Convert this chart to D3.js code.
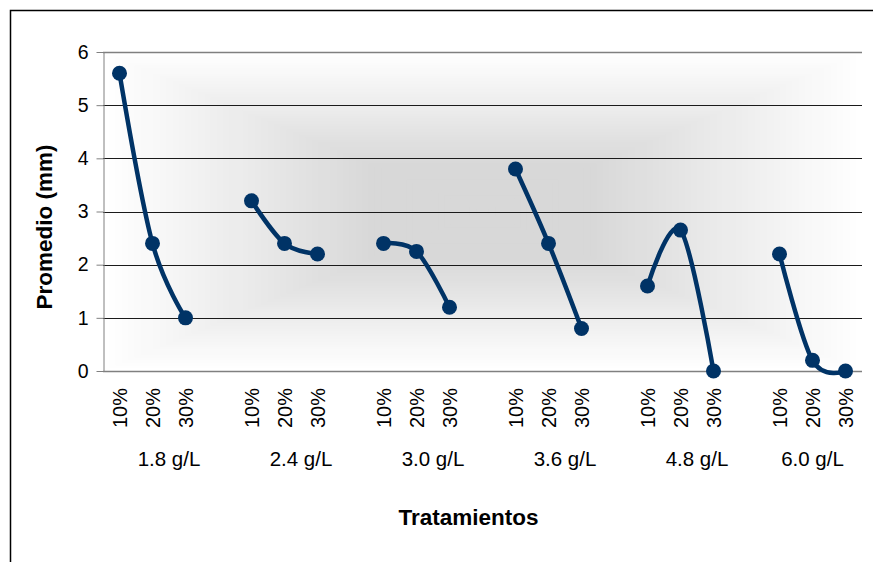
<!DOCTYPE html>
<html lang="es">
<head>
    <meta charset="UTF-8">
    <title>Promedio por tratamiento</title>
    <script src="https://d3js.org/d3.v7.min.js"></script>
    <style>
        body { margin: 0; background: #fff; }
        text { font-family: "Liberation Sans", Arial, sans-serif; fill: #000; }
    </style>
</head>
<body>
    <svg></svg>

    <script>
        const w = 873;
        const h = 562;

        // data
        const groups = ["1.8 g/L", "2.4 g/L", "3.0 g/L", "3.6 g/L", "4.8 g/L", "6.0 g/L"];
        const levels = ["10%", "20%", "30%"];
        const g18 = [5.6, 2.4, 1.0];
        const g24 = [3.2, 2.4, 2.2];
        const g30 = [2.4, 2.25, 1.2];
        const g36 = [3.8, 2.4, 0.8];
        const g48 = [1.6, 2.65, 0];
        const g60 = [2.2, 0.2, 0];
        const yTicks = [0, 1, 2, 3, 4, 5, 6];

        const series = [g18, g24, g30, g36, g48, g60];

        const plot = {left: 103, right: 862, top: 52, bottom: 371};

        // one slot per level, plus an empty slot between groups
        const slots = [];
        groups.forEach((g, gi) => {
            levels.forEach((l, li) => slots.push(gi + "-" + li));
            if (gi < groups.length - 1) slots.push(gi + "-gap");
        });

        const x = d3.scaleBand().domain(slots).range([plot.left, plot.right]);
        const y = d3.scaleLinear().domain([0, 6]).range([plot.bottom, plot.top]);
        const cx = key => x(key) + x.bandwidth() / 2;

        const svg = d3.select("svg").attr("width", w).attr("height", h);

        // chart border
        svg.append("rect")
            .attr("x", 10.5).attr("y", 10.5)
            .attr("width", 880).attr("height", 600)
            .attr("fill", "#fff")
            .attr("stroke", "#000")
            .attr("stroke-width", 1.5);

        // rectangular "from center" gradient in the plot area
        const pw = plot.right - plot.left;
        const ph = plot.bottom - plot.top;
        const steps = 60;
        const shade = d3.interpolateRgb("#ffffff", "#d8d8d8");
        const bg = svg.append("g");
        d3.range(steps).forEach(k => {
            const t = k / steps;
            bg.append("rect")
                .attr("x", plot.left + t * pw / 2)
                .attr("y", plot.top + t * ph / 2)
                .attr("width", pw * (1 - t))
                .attr("height", ph * (1 - t))
                .attr("fill", shade(Math.min(1, t / 0.7)));
        });

        // gridlines
        svg.append("g")
            .selectAll("line")
            .data(yTicks.filter(d => d > 0))
            .enter()
            .append("line")
                .attr("x1", plot.left).attr("x2", plot.right)
                .attr("y1", d => Math.round(y(d)) + 0.5)
                .attr("y2", d => Math.round(y(d)) + 0.5)
                .attr("stroke", d => d === 6 ? "#808080" : "#1a1a1a")
                .attr("stroke-width", d => d === 6 ? 1.5 : 1);

        // y axis
        const yAxis = svg.append("g")
            .attr("transform", `translate(${plot.left + 0.5},0)`)
            .call(d3.axisLeft(y).tickValues(yTicks).tickFormat(d3.format("d"))
                .tickSize(7).tickSizeOuter(0).tickPadding(8));
        yAxis.select(".domain").attr("stroke", "#808080");
        yAxis.selectAll(".tick line").attr("stroke", "#808080");
        yAxis.selectAll(".tick text")
            .attr("font-size", 19.5)
            .attr("font-family", "Liberation Sans, Arial, sans-serif")
            .attr("fill", "#000");

        // x axis baseline
        svg.append("line")
            .attr("x1", plot.left).attr("x2", plot.right)
            .attr("y1", Math.round(y(0)) + 0.5).attr("y2", Math.round(y(0)) + 0.5)
            .attr("stroke", "#808080")
            .attr("stroke-width", 1.5);

        // level labels, rotated
        const xl = svg.append("g");
        groups.forEach((g, gi) => {
            levels.forEach((l, li) => {
                const px = cx(gi + "-" + li) + 7;
                xl.append("text")
                    .attr("transform", `translate(${px},388) rotate(-90)`)
                    .attr("text-anchor", "end")
                    .attr("font-size", 20)
                    .text(l);
            });
        });

        // group labels
        svg.append("g")
            .selectAll("text")
            .data(groups)
            .enter()
            .append("text")
                .attr("x", (d, gi) => {
                    const first = x(gi + "-0");
                    const last = gi < groups.length - 1 ? x(gi + "-gap") : x(gi + "-2");
                    return (first + last + x.bandwidth()) / 2;
                })
                .attr("y", 466)
                .attr("text-anchor", "middle")
                .attr("font-size", 20.5)
                .text(d => d);

        // smoothed lines + markers, one per group
        const line = d3.line()
            .x(d => cx(d.key))
            .y(d => y(d.value))
            .curve(d3.curveCardinal.tension(0));

        const color = "#003366";
        series.forEach((vals, gi) => {
            const pts = vals.map((v, li) => ({key: gi + "-" + li, value: v}));
            svg.append("path")
                .attr("d", line(pts))
                .attr("fill", "none")
                .attr("stroke", color)
                .attr("stroke-width", 4.5)
                .attr("stroke-linejoin", "round");
            svg.append("g")
                .selectAll("circle")
                .data(pts)
                .enter()
                .append("circle")
                    .attr("cx", d => cx(d.key))
                    .attr("cy", d => y(d.value))
                    .attr("r", 7.5)
                    .attr("fill", color);
        });

        // axis titles
        svg.append("text")
            .attr("x", (plot.left + plot.right) / 2 - 14)
            .attr("y", 525)
            .attr("text-anchor", "middle")
            .attr("font-size", 22.5)
            .attr("font-weight", "bold")
            .text("Tratamientos");

        svg.append("text")
            .attr("transform", `translate(52,227) rotate(-90)`)
            .attr("text-anchor", "middle")
            .attr("font-size", 22.5)
            .attr("font-weight", "bold")
            .text("Promedio (mm)");
    </script>
</body>
</html>
